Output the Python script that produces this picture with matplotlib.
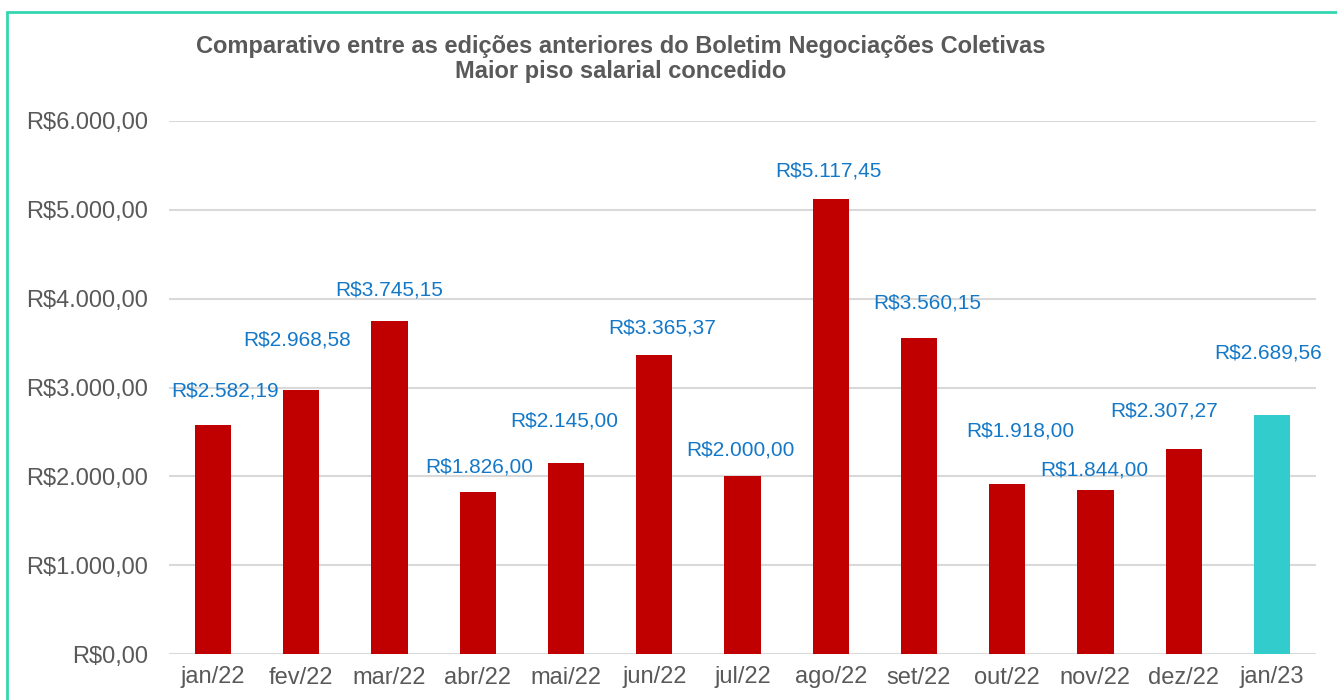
import matplotlib.pyplot as plt
import matplotlib.patches as patches
import numpy as np

plt.rcParams['font.family'] = ['Liberation Sans', 'DejaVu Sans']

months = ['jan/22', 'fev/22', 'mar/22', 'abr/22', 'mai/22', 'jun/22', 'jul/22',
          'ago/22', 'set/22', 'out/22', 'nov/22', 'dez/22', 'jan/23']
values = [2582.19, 2968.58, 3745.15, 1826.00, 2145.00, 3365.37, 2000.00,
          5117.45, 3560.15, 1918.00, 1844.00, 2307.27, 2689.56]
yticks = [0, 1000, 2000, 3000, 4000, 5000, 6000]

# label offsets (pixels) as placed in the original
lab_dx = [12, -4, 0, 1, -2, 8, -2, -2, 8, 13, -1, -20, -4]
lab_dy = [34, 50, 31, 25, 42, 27, 26, 28, 35, 53, 20, 38, 62]

def brl(v):
    s = f"{v:,.2f}"
    return "R$" + s.replace(',', 'X').replace('.', ',').replace('X', '.')

fig = plt.figure(figsize=(13.37, 7), dpi=100)
ax = fig.add_axes([169/1337, 46/700, 1147/1337, 533/700])

colors = ['#C00000'] * (len(values) - 1) + ['#33CCCC']
x = np.arange(len(months))
ax.bar(x, values, width=0.41, color=colors, zorder=3)

for i, v in enumerate(values):
    ax.annotate(brl(v), (x[i], v), xytext=(lab_dx[i]*0.72, lab_dy[i]*0.72),
                textcoords='offset points', ha='center', va='center',
                fontsize=15, color='#1478C8')

ax.set_xlim(-0.5, len(months) - 0.5)
ax.set_ylim(0, 6000)
ax.set_yticks(yticks)
ax.set_yticklabels([brl(t) for t in yticks])
ax.set_xticks(x)
ax.set_xticklabels(months)
ax.tick_params(axis='y', length=0, pad=15, labelsize=17, labelcolor='#595959')
ax.tick_params(axis='x', length=0, pad=9, labelsize=17, labelcolor='#595959')
ax.grid(axis='y', color='#D9D9D9', linewidth=1.5, zorder=0)
for s in ax.spines.values():
    s.set_visible(False)

fig.text(621/1337, 1 - 59/700,
         "Comparativo entre as edições anteriores do Boletim Negociações Coletivas\nMaior piso salarial concedido",
         ha='center', va='center', fontsize=17, fontweight='bold', color='#595959',
         linespacing=1.1)

border = patches.Rectangle((7/1337, -0.05), 1.1, 1 - 12/700 + 0.05,
                           transform=fig.transFigure, fill=False,
                           edgecolor='#33D6B0', linewidth=2, clip_on=False)
fig.patches.append(border)

plt.savefig('out.png', dpi=100)
plt.close()
